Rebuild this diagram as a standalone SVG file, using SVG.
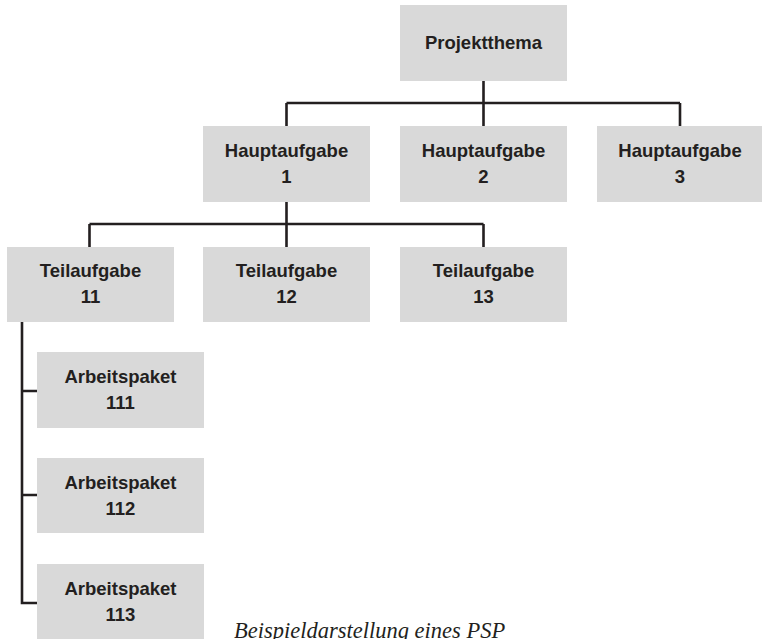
<svg xmlns="http://www.w3.org/2000/svg" width="762" height="639" viewBox="0 0 762 639">
<style>
.box{fill:#d9d9d9}
.t{font-family:"Liberation Sans",Arial,sans-serif;font-weight:bold;font-size:18.5px;fill:#231f20;text-anchor:middle}
.c{fill:none;stroke:#231f20;stroke-width:2.6}
.cap{font-family:"Liberation Serif","Times New Roman",serif;font-style:italic;font-size:22.5px;fill:#231f20}
</style>
<rect width="762" height="639" fill="#ffffff"/>
<g id="connectors">
<path class="c" d="M483.5,81V103M286.5,103H680M286.5,103V126M483.5,103V126M680,103V126"/>
<path class="c" d="M286.5,202V224M89.5,224H483.5M89.5,224V247M286.5,224V247M483.5,224V247"/>
<path class="c" d="M22,322V603M20.7,391H37M20.7,495H37M20.7,603H37"/>
</g>
<g id="projektthema"><rect class="box" x="400" y="5" width="167" height="76"/><text class="t" x="483.5" y="49">Projektthema</text></g>
<g id="hauptaufgabe1"><rect class="box" x="203" y="126" width="167" height="76"/><text class="t" x="286.5" y="157">Hauptaufgabe</text><text class="t" x="286.5" y="183">1</text></g>
<g id="hauptaufgabe2"><rect class="box" x="400" y="126" width="167" height="76"/><text class="t" x="483.5" y="157">Hauptaufgabe</text><text class="t" x="483.5" y="183">2</text></g>
<g id="hauptaufgabe3"><rect class="box" x="597" y="126" width="165" height="76"/><text class="t" x="680" y="157">Hauptaufgabe</text><text class="t" x="680" y="183">3</text></g>
<g id="teilaufgabe11"><rect class="box" x="7" y="247" width="167" height="75"/><text class="t" x="90.5" y="277">Teilaufgabe</text><text class="t" x="90.5" y="303">11</text></g>
<g id="teilaufgabe12"><rect class="box" x="203" y="247" width="167" height="75"/><text class="t" x="286.5" y="277">Teilaufgabe</text><text class="t" x="286.5" y="303">12</text></g>
<g id="teilaufgabe13"><rect class="box" x="400" y="247" width="167" height="75"/><text class="t" x="483.5" y="277">Teilaufgabe</text><text class="t" x="483.5" y="303">13</text></g>
<g id="arbeitspaket111"><rect class="box" x="37" y="352" width="167" height="76"/><text class="t" x="120.5" y="383">Arbeitspaket</text><text class="t" x="120.5" y="409">111</text></g>
<g id="arbeitspaket112"><rect class="box" x="37" y="458" width="167" height="75"/><text class="t" x="120.5" y="489">Arbeitspaket</text><text class="t" x="120.5" y="515">112</text></g>
<g id="arbeitspaket113"><rect class="box" x="37" y="564" width="167" height="76"/><text class="t" x="120.5" y="595">Arbeitspaket</text><text class="t" x="120.5" y="621">113</text></g>
<text class="cap" x="234" y="638">Beispieldarstellung eines PSP</text>
</svg>
